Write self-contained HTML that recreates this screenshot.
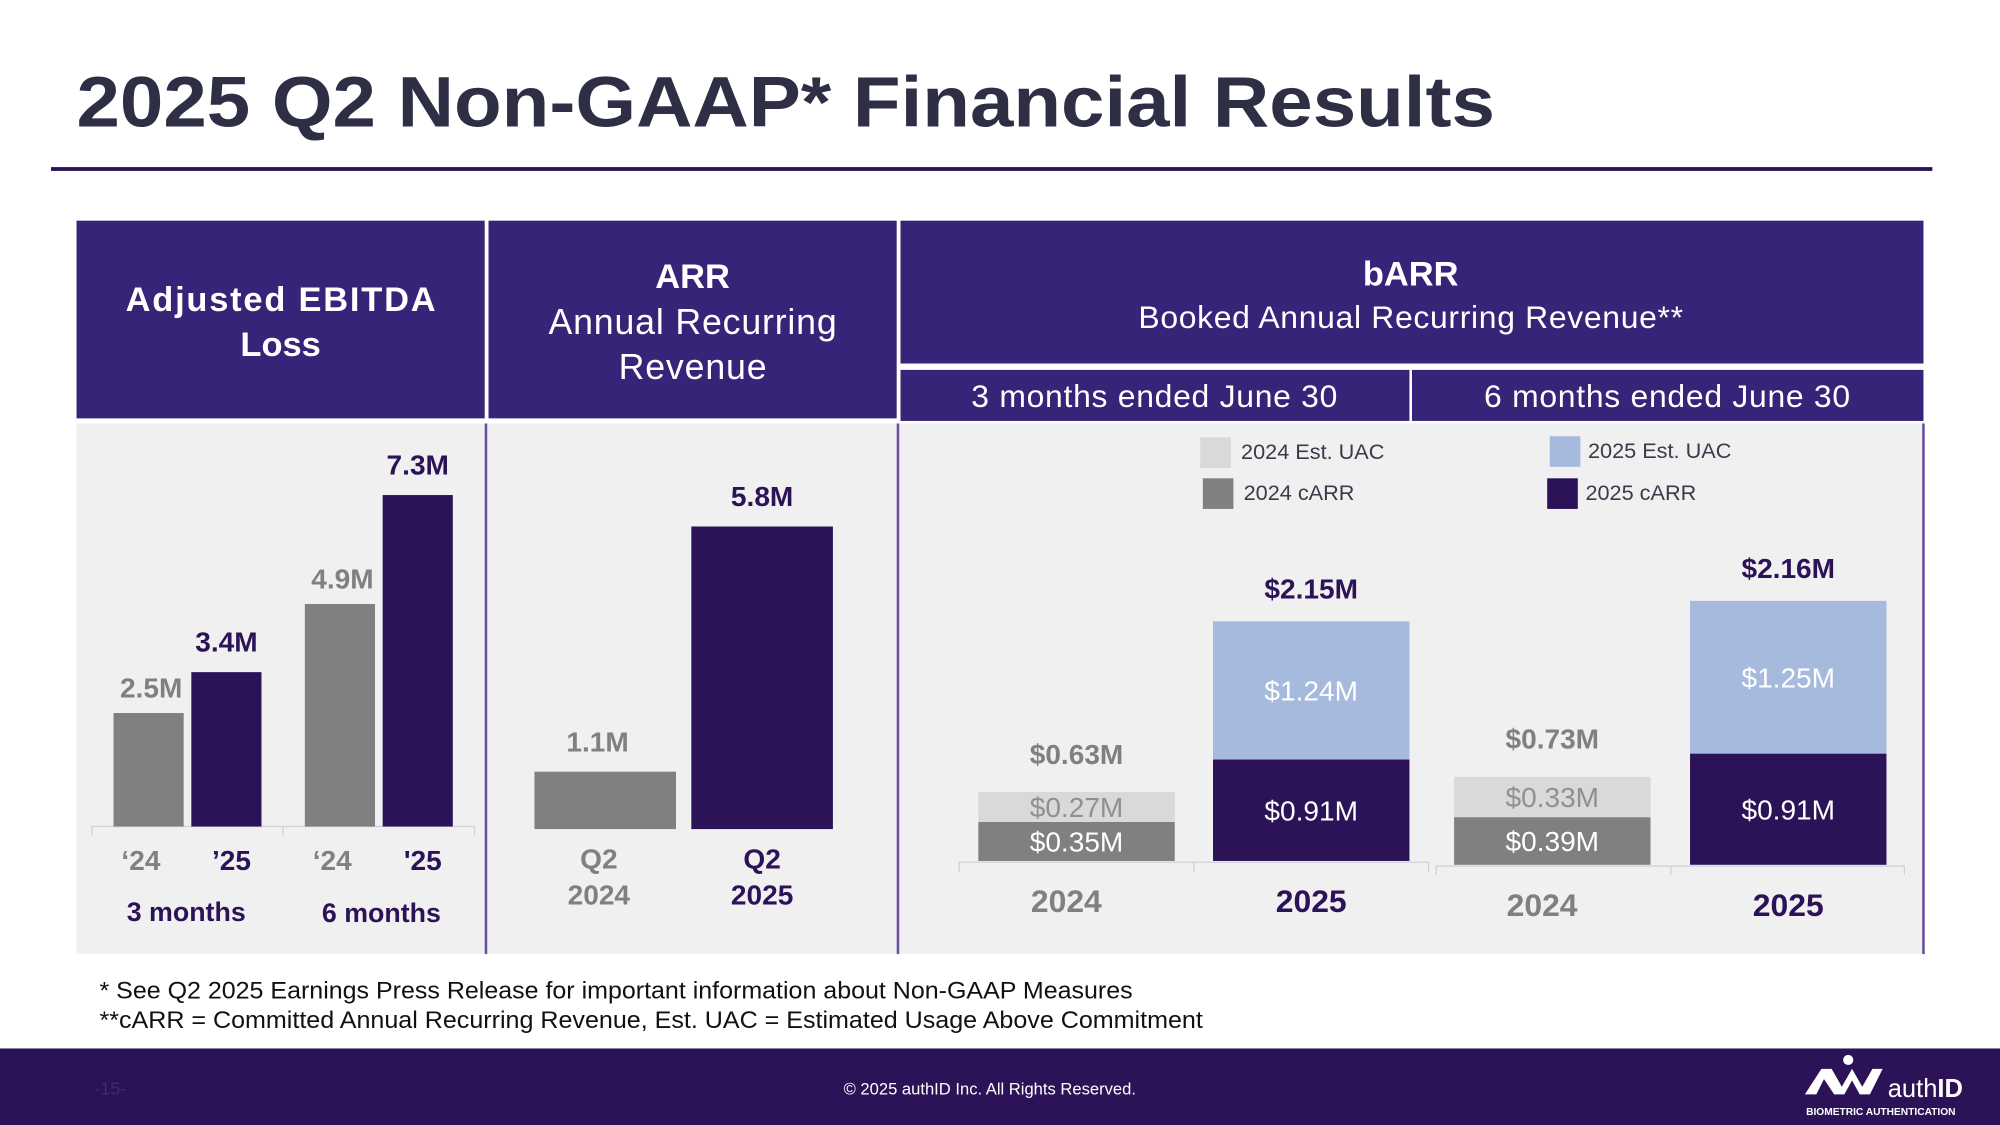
<!DOCTYPE html>
<html><head><meta charset="utf-8"><style>
html,body{margin:0;padding:0;background:#fff;}
svg{display:block;font-family:"Liberation Sans",Arial,sans-serif;}
</style></head><body>
<svg id="s" width="2000" height="1125" viewBox="0 0 1568 882" xmlns="http://www.w3.org/2000/svg">
<rect width="1568" height="882" fill="#fff"/>
<text x="60" y="99" font-size="56" font-weight="bold" fill="#2e2f45" textLength="1112" lengthAdjust="spacingAndGlyphs">2025 Q2 Non-GAAP* Financial Results</text>
<rect x="40" y="131" width="1475" height="3" fill="#2c1358"/>
<rect x="60" y="332" width="1448" height="416" fill="#f0f0f0"/>
<rect x="380" y="332" width="2" height="416" fill="#6a4fa0"/>
<rect x="703" y="332" width="2" height="416" fill="#6a4fa0"/>
<rect x="1507" y="332" width="2" height="416" fill="#6a4fa0"/>
<rect x="60" y="173" width="320" height="155" fill="#372478"/>
<rect x="383" y="173" width="320" height="155" fill="#372478"/>
<rect x="706" y="173" width="802" height="112" fill="#372478"/>
<rect x="706" y="290" width="399" height="40" fill="#372478"/>
<rect x="1107" y="290" width="401" height="40" fill="#372478"/>
<g fill="#fff" text-anchor="middle" lengthAdjust="spacingAndGlyphs">
<text x="220" y="244" font-size="27" font-weight="bold" textLength="243">Adjusted EBITDA</text>
<text x="220" y="279" font-size="27" font-weight="bold">Loss</text>
<text x="543" y="226" font-size="27" font-weight="bold">ARR</text>
<text x="543" y="262" font-size="28" textLength="226">Annual Recurring</text>
<text x="543" y="297" font-size="28" textLength="116">Revenue</text>
<text x="1106" y="224" font-size="27" font-weight="bold">bARR</text>
<text x="1106" y="257" font-size="25" textLength="427">Booked Annual Recurring Revenue**</text>
<text x="905" y="319" font-size="25" textLength="287">3 months ended June 30</text>
<text x="1307" y="319" font-size="25" textLength="287">6 months ended June 30</text>
</g>
<g font-size="17" fill="#3a3a4a">
<rect x="941" y="343" width="24" height="24" fill="#d9d9d9"/><text x="973" y="360">2024 Est. UAC</text>
<rect x="943" y="375" width="24" height="24" fill="#808080"/><text x="975" y="392">2024 cARR</text>
<rect x="1215" y="342" width="24" height="24" fill="#a6bade"/><text x="1245" y="359">2025 Est. UAC</text>
<rect x="1213" y="375" width="24" height="24" fill="#2c1358"/><text x="1243" y="392">2025 cARR</text>
</g>
<g id="charts"></g>
<text x="78" y="783" font-size="19" fill="#111" textLength="810" lengthAdjust="spacingAndGlyphs">* See Q2 2025 Earnings Press Release for important information about Non-GAAP Measures</text>
<text x="78" y="806" font-size="19" fill="#111" textLength="865" lengthAdjust="spacingAndGlyphs">**cARR = Committed Annual Recurring Revenue, Est. UAC = Estimated Usage Above Commitment</text>
<rect x="0" y="822" width="1568" height="60" fill="#2c1358"/>
<text x="74" y="858" font-size="14" fill="#3e2a78">-15-</text>
<text x="776" y="858" font-size="13" fill="#fff" text-anchor="middle">© 2025 authID Inc. All Rights Reserved.</text>
<g>
<path d="M1415 858 L1428 838 L1436 838 L1444 852 L1452 838 L1460 852 L1468 838 L1476 838 L1466 858 L1458 858 L1452 847 L1446 858 L1438 858 L1430 846 L1424 858 Z" fill="#fff"/>
<circle cx="1449" cy="831" r="4" fill="#fff"/>
<text x="1480" y="860" font-size="20" fill="#fff">auth<tspan font-weight="bold">ID</tspan></text>
<text x="1416" y="874" font-size="8" font-weight="bold" fill="#fff">BIOMETRIC AUTHENTICATION</text>
</g>
</svg>
<script>
// EBITDA loss
const ebitdaCats = ["‘24","’25","‘24","'25"];
const ebitdaVals = [2.5, 3.4, 4.9, 7.3];
const ebitdaLabels = ["2.5M","3.4M","4.9M","7.3M"];
// ARR
const arrCats = ["Q2|2024","Q2|2025"];
const arrVals = [1.1, 5.8];
const arrLabels = ["1.1M","5.8M"];
// bARR
const barrYears = ["2024","2025"];
const barr3cARR = [0.35, 0.91];
const barr3UAC = [0.27, 1.24];
const barr3Totals = ["$0.63M","$2.15M"];
const barr6cARR = [0.39, 0.91];
const barr6UAC = [0.33, 1.25];
const barr6Totals = ["$0.73M","$2.16M"];

const NS="http://www.w3.org/2000/svg";
const g=document.getElementById('charts');
function mk(tag,attrs,parent){const e=document.createElementNS(NS,tag);for(const k in attrs)e.setAttribute(k,attrs[k]);(parent||g).appendChild(e);return e;}
function txt(x,y,s,size,fill,bold,parent){const t=mk('text',{x:x,y:y,'font-size':size,fill:fill,'text-anchor':'middle','font-weight':bold?'bold':'normal'},parent);t.textContent=s;return t;}
const DARK="#2c1358",GRAY="#808080";

const eBase=648, eScale=35.6;
const eX=[89,150,239,300], eW=55;
function eY(v){return eBase-v*eScale;}
mk('path',{d:'M72 655 V648 H372 V655 M222 648 V655',stroke:'#d0d0d8',fill:'none','stroke-width':1});
ebitdaVals.forEach((v,i)=>{
  const c=i%2?DARK:GRAY;
  const r=mk('rect',{x:eX[i],y:eY(v),width:eW,height:eBase-eY(v),fill:c});
  
  
  txt(eX[i]+eW/2+(i%2?0:2),eY(v)-(i%2?16:12),ebitdaLabels[i],22,c,true);
  txt(eX[i]+eW/2+(i%2?4:-6),682,ebitdaCats[i],22,c,true);
});
txt(146,722,"3 months",21,DARK,true);
txt(299,723,"6 months",21,DARK,true);

const aBase=650, aScale=40.9;
const aX=[419,542], aW=111;
function aY(v){return aBase-v*aScale;}
arrVals.forEach((v,i)=>{
  const c=i?DARK:GRAY;
  const r=mk('rect',{x:aX[i],y:aY(v),width:aW,height:aBase-aY(v),fill:c});
  
  
  txt(aX[i]+aW/2-(i?0:6),aY(v)-16,arrLabels[i],22,c,true);
  const p=arrCats[i].split('|');
  txt(aX[i]+aW/2-(i?0:5),681,p[0],22,c,true);
  txt(aX[i]+aW/2-(i?0:5),709,p[1],22,c,true);
});

function stacked(base,scale,xs,carr,uac,totals,axis,tag){
  const w=154;
  mk('path',{d:axis,stroke:'#d0d0d8',fill:'none','stroke-width':1});
  const yf=v=>base-v*scale;
  carr.forEach((v,i)=>{
    const dark=i===1;
    const r1=mk('rect',{x:xs[i],y:yf(v),width:w,height:v*scale,fill:dark?DARK:GRAY});
    
    
    const top=v+uac[i];
    const r2=mk('rect',{x:xs[i],y:yf(top),width:w,height:uac[i]*scale,fill:dark?'#a6bade':'#d9d9d9'});
    
    
    const cx=xs[i]+w/2;
    txt(cx,(yf(v)+base)/2+8,'$'+v.toFixed(2)+'M',22,'#fff',false);
    txt(cx,(yf(v)+yf(top))/2+8,'$'+uac[i].toFixed(2)+'M',22,dark?'#fff':'#909090',false);
    txt(cx,yf(top)-(dark?18:22),totals[i],22,dark?DARK:GRAY,true);
    txt(cx+(dark?0:-8),base+40,barrYears[i],25,dark?DARK:GRAY,true);
  });
}
stacked(675,87.4,[767,951],barr3cARR,barr3UAC,barr3Totals,'M752 684 V676 H1120 V684 M936 676 V684','barr-3m');
stacked(678,95.8,[1140,1325],barr6cARR,barr6UAC,barr6Totals,'M1126 686 V679 H1493 V686 M1310 679 V686','barr-6m');
</script>
</body></html>
